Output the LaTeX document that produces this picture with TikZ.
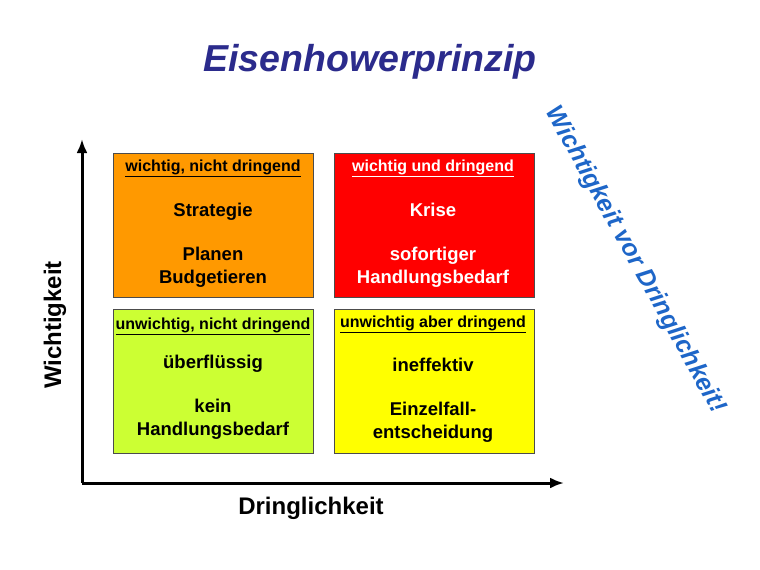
\documentclass[tikz,border=0pt]{standalone}
\usepackage{fontspec}
\setmainfont{Liberation Sans}
\usetikzlibrary{arrows.meta}
\definecolor{tblue}{HTML}{2B2B8C}
\definecolor{rblue}{HTML}{1E66C8}
\definecolor{qorange}{HTML}{FF9900}
\definecolor{qred}{HTML}{FF0000}
\definecolor{qgreen}{HTML}{CCFF33}
\definecolor{qyellow}{HTML}{FFFF00}
\tikzset{quad/.style={draw=black!70,line width=0.8pt,minimum width=200pt,minimum height=144pt,anchor=north west},
 head/.style={font=\bfseries\fontsize{16}{18}\selectfont,anchor=north,inner sep=1pt},
 body/.style={font=\bfseries\fontsize{18.5}{23}\selectfont,align=center,anchor=north},
 axis/.style={line width=3pt,-{Latex[length=14pt,width=11pt]}},
 lbl/.style={font=\bfseries\fontsize{24}{28}\selectfont}}
\begin{document}
\begin{tikzpicture}[x=1pt,y=-1pt]
\useasboundingbox (0,0) rectangle (760,570);
\node[font=\bfseries\itshape\fontsize{37.5}{42}\selectfont,text=tblue] (title) at (370,62) {Eisenhowerprinzip};
\node[quad,fill=qorange] (q1) at (113,153) {};
\node[quad,fill=qred] (q2) at (334,153) {};
\node[quad,fill=qgreen] (q3) at (113,309) {};
\node[quad,fill=qyellow] (q4) at (334,309) {};
\node[head] (h1) at (213,159) {\underline{wichtig, nicht dringend}};
\node[head,text=white] (h2) at (433,159) {\underline{wichtig und dringend}};
\node[head] (h3) at (213,317) {\underline{unwichtig, nicht dringend}};
\node[head] (h4) at (433,315) {\underline{unwichtig aber dringend}};
\node[body] (b1) at (213,200) {Strategie\\[21pt]Planen\\Budgetieren};
\node[body,text=white] (b2) at (433,200) {Krise\\[21pt]sofortiger\\Handlungsbedarf};
\node[body] (b3) at (213,352) {überflüssig\\[21pt]kein\\Handlungsbedarf};
\node[body] (b4) at (433,355) {ineffektiv\\[21pt]Einzelfall-\\entscheidung};
\coordinate (o) at (82,483);
\coordinate (ytop) at (82,139);
\coordinate (xend) at (564,483);
\draw[axis] (o) -- (ytop);
\draw[axis] (o) -- (xend);
\node[lbl,rotate=90] (yl) at (55,325) {Wichtigkeit};
\node[lbl] (xl) at (311,508) {Dringlichkeit};
\node[font=\bfseries\itshape\fontsize{25}{30}\selectfont,text=rblue,rotate=-61] (r) at (635,260) {Wichtigkeit vor Dringlichkeit!};
\end{tikzpicture}
\end{document}
